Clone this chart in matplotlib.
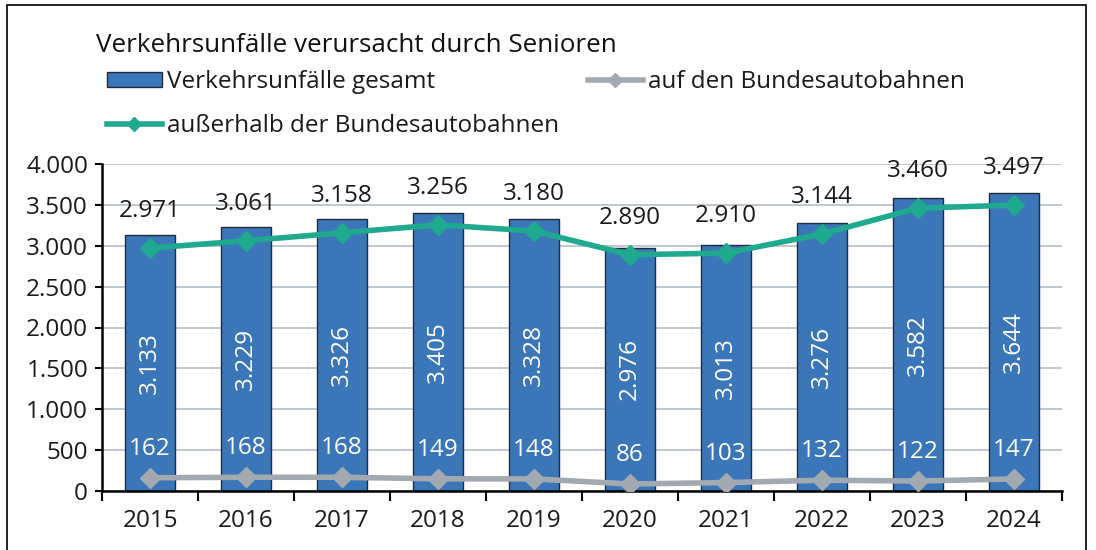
import matplotlib
matplotlib.use("Agg")
import matplotlib.pyplot as plt
from matplotlib.patches import Rectangle, Patch
from matplotlib.ticker import FuncFormatter, MultipleLocator, FixedLocator
from matplotlib.lines import Line2D

years = ["2015", "2016", "2017", "2018", "2019", "2020", "2021", "2022", "2023", "2024"]
gesamt = [3133, 3229, 3326, 3405, 3328, 2976, 3013, 3276, 3582, 3644]
auf_bab = [162, 168, 168, 149, 148, 86, 103, 132, 122, 147]
ausserhalb = [2971, 3061, 3158, 3256, 3180, 2890, 2910, 3144, 3460, 3497]

title = "Verkehrsunfälle verursacht durch Senioren"
lbl_gesamt = "Verkehrsunfälle gesamt"
lbl_auf = "auf den Bundesautobahnen"
lbl_aus = "außerhalb der Bundesautobahnen"

plt.rcParams['font.family'] = ['Open Sans', 'DejaVu Sans']

BAR = "#3b76b8"
TEAL = "#1fa98f"
GREY = "#a3a9b1"
TXT = "#1a1a1a"
FS = 17.5

def de(v):
    return f"{v:,.0f}".replace(",", ".")

fig = plt.figure(figsize=(10.96, 5.5), dpi=100)
ax = fig.add_axes([102/1096, 1-491/550, 960/1096, 327/550])

x = list(range(len(years)))
ax.bar(x, gesamt, width=0.52, color=BAR, edgecolor="#1f2d3d", linewidth=1.0, zorder=2)
ax.plot(x, auf_bab, color=GREY, lw=4, marker="D", ms=10, zorder=3)
ax.plot(x, ausserhalb, color=TEAL, lw=4, marker="D", ms=10, zorder=3)

for i in x:
    ax.text(i, gesamt[i]/2, de(gesamt[i]), rotation=90, ha="center", va="center",
            color="white", fontsize=FS, zorder=4)
    ax.annotate(de(auf_bab[i]), (i, auf_bab[i]), xytext=(0, 29), textcoords="offset pixels",
                ha="center", va="center", color="white", fontsize=FS, zorder=4)
    ax.annotate(de(ausserhalb[i]), (i, ausserhalb[i]), xytext=(0, 37), textcoords="offset pixels",
                ha="center", va="center", color=TXT, fontsize=FS, zorder=4)

ax.set_xlim(-0.5, len(years)-0.5)
ax.set_ylim(0, 4000)
ax.yaxis.set_major_locator(MultipleLocator(500))
ax.yaxis.set_major_formatter(FuncFormatter(lambda v, p: de(v)))
ax.set_xticks(x)
ax.set_xticklabels(years)
ax.xaxis.set_minor_locator(FixedLocator([i-0.5 for i in range(len(years)+1)]))
ax.tick_params(axis="x", which="major", length=0, pad=13, labelsize=FS, labelcolor=TXT)
ax.tick_params(axis="x", which="minor", length=7, width=1.5, direction="out", color="black")
ax.tick_params(axis="y", length=5, width=1.5, labelsize=FS, color="black", labelcolor=TXT, pad=5)
ax.grid(axis="y", color="#b6bec8", lw=1.2, zorder=0)
ax.set_axisbelow(True)
for s in ["top", "right"]:
    ax.spines[s].set_visible(False)
for s in ["left", "bottom"]:
    ax.spines[s].set_linewidth(1.8)
    ax.spines[s].set_color("black")

fig.text(96/1096, 1-45/550, title, fontsize=18.7, ha="left", va="center", color="#111111")

def leg(handle, label, xpx, ypx, hl):
    l = fig.legend([handle], [label], loc="center left", bbox_to_anchor=(xpx/1096, 1-ypx/550),
                   frameon=False, fontsize=FS, handlelength=hl, handleheight=0.55,
                   handletextpad=0.2, borderaxespad=0, borderpad=0)
    for t in l.get_texts():
        t.set_color(TXT)
    return l

leg(Patch(facecolor=BAR, edgecolor="#1f2d3d", linewidth=1.0), lbl_gesamt, 107, 82, 2.25)
leg(Line2D([], [], color=GREY, lw=4, marker="D", ms=7), lbl_auf, 588, 82, 2.25)
leg(Line2D([], [], color=TEAL, lw=4, marker="D", ms=7), lbl_aus, 107, 126, 2.25)

fig.add_artist(Rectangle((7/1096, -0.02), 1079/1096, 1.02 - 5/550, transform=fig.transFigure,
                         fill=False, edgecolor="black", lw=1.2))

fig.savefig("out.png", dpi=100)
